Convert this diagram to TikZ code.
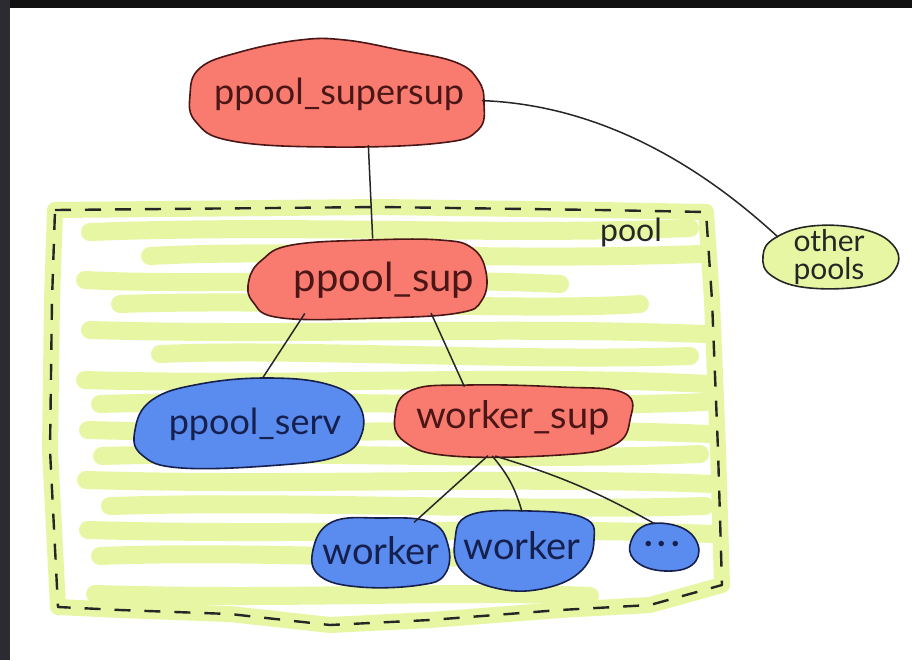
\documentclass[tikz,border=0pt]{standalone}
\usepackage{fontspec}
\setmainfont{Lato}
\usetikzlibrary{shapes.geometric}
\definecolor{supred}{HTML}{F97B70}
\definecolor{wkblue}{HTML}{5A8BEE}
\definecolor{hilite}{HTML}{E7F6A2}
\definecolor{ink}{HTML}{262626}
\definecolor{redink}{HTML}{4A1616}
\definecolor{blueink}{HTML}{16204E}
\definecolor{frametop}{HTML}{111111}
\definecolor{frameleft}{HTML}{2B2B31}
\begin{document}
\begin{tikzpicture}[x=0.5pt,y=-0.5pt,
  redblob/.style={fill=supred, draw=redink, line width=0.8pt},
  blueblob/.style={fill=wkblue, draw=blueink, line width=0.8pt},
  greenblob/.style={fill=hilite, draw=ink, line width=0.8pt},
  holder/.style={shape=ellipse, inner sep=0pt, draw=none},
  redtxt/.style={text=redink, font=\fontsize{18}{19}\selectfont},
  bluetxt/.style={text=blueink, font=\fontsize{18}{19}\selectfont},
  link/.style={draw=ink, line width=0.75pt},
  scribble/.style={draw=hilite, line width=9pt, line cap=round, line join=round},
]
% canvas and dark frame
\useasboundingbox (0,0) rectangle (912,660);
\fill[white] (0,0) rectangle (912,660);
\fill[frametop] (0,0) rectangle (912,8);
\fill[frameleft] (0,0) rectangle (10,660);

% highlighter band around the pool
\draw[draw=hilite, line width=8pt, line join=round]
  (55,210) -- (380,207) -- (600,210) -- (706,212)
  -- (712,300) -- (718,450) -- (722,585)
  -- (650,605) -- (560,610) -- (430,620) -- (330,625) -- (230,614) -- (120,610) -- (58,607)
  -- (50,450) -- (52,300) -- cycle;

% highlighter scribbles filling the pool
\draw[scribble] (90,232) .. controls (300,224) and (500,236) .. (690,228);
\draw[scribble] (150,256) .. controls (300,248) and (480,262) .. (700,254);
\draw[scribble] (85,280) .. controls (200,286) and (400,276) .. (560,284);
\draw[scribble] (120,304) .. controls (300,298) and (520,312) .. (640,304);
\draw[scribble] (90,330) .. controls (300,336) and (500,326) .. (705,334);
\draw[scribble] (160,354) .. controls (300,348) and (520,362) .. (690,356);
\draw[scribble] (85,380) .. controls (300,386) and (520,374) .. (708,384);
\draw[scribble] (100,404) .. controls (300,398) and (520,410) .. (705,402);
\draw[scribble] (88,430) .. controls (300,436) and (520,426) .. (710,434);
\draw[scribble] (102,456) .. controls (300,450) and (520,462) .. (700,454);
\draw[scribble] (86,480) .. controls (300,486) and (520,476) .. (712,484);
\draw[scribble] (110,506) .. controls (300,500) and (520,512) .. (705,506);
\draw[scribble] (88,530) .. controls (300,536) and (520,526) .. (712,534);
\draw[scribble] (100,556) .. controls (250,550) and (420,562) .. (560,556);
\draw[scribble] (95,594) .. controls (300,600) and (450,590) .. (590,596);

% dashed outline of the pool
\draw[draw=ink, line width=1.2pt, dash pattern=on 8pt off 7pt, line join=round]
  (55,210) -- (380,207) -- (600,210) -- (706,212)
  -- (712,300) -- (718,450) -- (722,585)
  -- (650,605) -- (560,610) -- (430,620) -- (330,625) -- (230,614) -- (120,610) -- (58,607)
  -- (50,450) -- (52,300) -- cycle;
\node[text=ink, font=\fontsize{16}{17}\selectfont] (poollbl) at (631,232) {pool};

% blob outlines
\draw[redblob] plot[smooth cycle, tension=0.7] coordinates {
  (200,68) (240,52) (300,40) (345,40) (400,50) (455,62) (478,80) (484,103)
  (478,130) (440,143) (330,147) (232,141) (196,122) (190,95)};
\draw[greenblob] plot[smooth cycle, tension=0.7] coordinates {
  (775,238) (812,226) (862,229) (893,245) (896,268) (870,285) (810,288) (772,276) (763,256)};
\draw[redblob] plot[smooth cycle, tension=0.7] coordinates {
  (262,260) (292,245) (370,240) (440,240) (472,248) (486,272) (482,300)
  (458,313) (380,318) (282,318) (253,302) (249,280)};
\draw[blueblob] plot[smooth cycle, tension=0.7] coordinates {
  (152,400) (200,384) (270,378) (330,385) (359,405) (361,436) (338,456)
  (280,465) (182,468) (142,455) (135,430)};
\draw[redblob] plot[smooth cycle, tension=0.7] coordinates {
  (412,390) (470,385) (560,387) (624,393) (630,420) (614,445) (560,455)
  (452,456) (405,442) (395,416)};
\draw[blueblob] plot[smooth cycle, tension=0.7] coordinates {
  (332,522) (380,518) (430,522) (448,545) (445,574) (420,585) (360,587)
  (320,576) (313,550)};
\draw[blueblob] plot[smooth cycle, tension=0.7] coordinates {
  (470,515) (530,511) (584,518) (594,540) (582,570) (546,588) (500,589)
  (462,571) (455,540)};
\draw[blueblob] plot[smooth cycle, tension=0.7] coordinates {
  (646,525) (680,527) (698,545) (692,565) (665,571) (638,563) (630,545)};

% anchoring shapes for the connectors
\node[holder, minimum width=146pt, minimum height=53pt] (supersup) at (337,93) {};
\node[holder, minimum width=119pt, minimum height=40pt] (poolsup) at (367,279) {};
\node[holder, minimum width=114pt, minimum height=45pt] (serv) at (248,423) {};
\node[holder, minimum width=118pt, minimum height=36pt] (wsup) at (512,420) {};
\node[holder, minimum width=67pt, minimum height=34pt] (w1) at (380,552) {};
\node[holder, minimum width=70pt, minimum height=38pt] (w2) at (524,550) {};
\node[holder, minimum width=35pt, minimum height=24pt] (more) at (665,547) {};
\node[holder, minimum width=67pt, minimum height=31pt] (others) at (830,257) {};

% labels
\node[redtxt] (supersup-t) at (339,94) {ppool\_supersup};
\node[redtxt, font=\fontsize{20}{21}\selectfont] (poolsup-t) at (384,280) {ppool\_sup};
\node[bluetxt] (serv-t) at (255,424) {ppool\_serv};
\node[redtxt, font=\fontsize{19}{20}\selectfont] (wsup-t) at (513,418) {worker\_sup};
\node[bluetxt, font=\fontsize{19}{20}\selectfont] (w1-t) at (381,551) {worker};
\node[bluetxt, font=\fontsize{19}{20}\selectfont] (w2-t) at (522,546) {worker};
\node[bluetxt, font=\fontsize{18}{19}\bfseries] (more-t) at (662,544) {.\hspace{2.5pt}.\hspace{2.5pt}.};
\node[text=ink, align=center, font=\fontsize{15}{14}\selectfont, inner sep=1pt] (others-t) at (829,257) {other\\pools};

% connectors
\draw[link] (supersup.-59) -- (poolsup.82);
\draw[link] (supersup.-3) .. controls (600,105) and (700,165) .. (others.159);
\draw[link] (poolsup.-151) -- (serv.72);
\draw[link] (poolsup.-28) -- (wsup.145);
\draw[link] (wsup.-124) -- (w1.41);
\draw[link] (wsup.-119) to[bend left=12] (w2.93);
\draw[link] (wsup.-115) to[bend left=6] (more.114);
\end{tikzpicture}
\end{document}
